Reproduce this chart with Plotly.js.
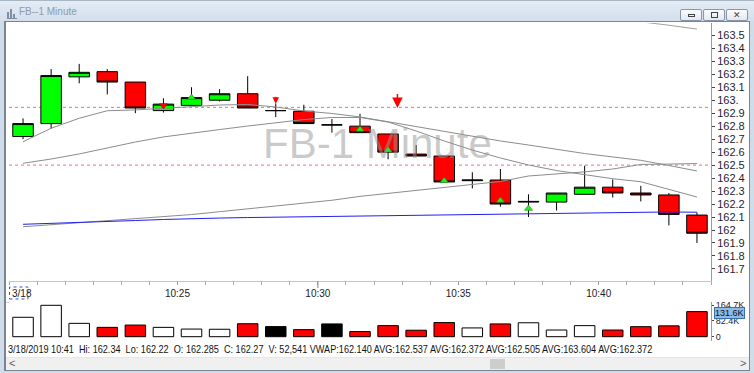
<!DOCTYPE html>
<html>
<head>
<meta charset="utf-8">
<script src="https://cdn.plot.ly/plotly-3.0.1.min.js"></script>
<style>
html,body{margin:0;padding:0;}
body{width:754px;height:373px;overflow:hidden;position:relative;background:#cfdcea;font-family:"Liberation Sans Narrow","Arial Narrow","Liberation Sans",Arial,sans-serif;}
#titlebar{position:absolute;left:0;top:0;width:754px;height:21px;background:linear-gradient(#e4ecf5,#d3dfec);border-top:1px solid #a9b6c4;box-sizing:border-box;}
#title{position:absolute;left:19px;top:5px;font-size:10px;color:#8d9bab;}
#icon{position:absolute;left:7px;top:8px;width:10px;height:9px;border-bottom:1px solid #7f8fa2;}
#icon span{position:absolute;bottom:0;width:2px;background:#7f8fa2;}
.btn{position:absolute;top:8px;width:20px;height:10px;border:1px solid #8896a6;border-radius:2px;background:linear-gradient(#fafcfe,#e2e9f1);}
.btn i{position:absolute;left:7px;top:3px;width:5px;height:3px;border:1px solid #444;}
#inner{position:absolute;left:4px;top:21px;width:743px;height:348px;background:#fff;border:1px solid #7a8591;border-left-width:2px;}
#chart{position:absolute;left:0;top:0;}
#sep{position:absolute;left:6px;top:302px;width:705px;height:1px;background:#d4d4d4;}
#info{position:absolute;left:8px;top:343px;font-size:11px;color:#111;white-space:nowrap;transform-origin:0 50%;}
#scroll{position:absolute;left:6px;top:357px;width:743px;height:12px;background:#f0f0f0;border-top:1px solid #e6e6e6;}
#thumb{position:absolute;left:484px;top:1px;width:15px;height:10px;background:#cdcdcd;}
.arr{position:absolute;top:-1px;font-size:11px;color:#606060;}
</style>
</head>
<body>
<div id="titlebar">
  <div id="icon"><span style="left:0;height:6px"></span><span style="left:3px;height:9px"></span><span style="left:6px;height:4px"></span></div>
  <div id="title">FB--1 Minute</div>
  <div class="btn" style="left:680px"><i style="top:4px;height:1px"></i></div>
  <div class="btn" style="left:703px"><i style="top:2px;height:4px"></i></div>
  <div class="btn" style="left:726px"><i style="border:none;top:0;left:6px;font-style:normal;font-size:9px;color:#444">✕</i></div>
</div>
<div id="inner"></div>
<div id="sep"></div>
<div id="chart"></div>
<div id="info"></div>
<div id="scroll"><span class="arr" style="left:3px">&lt;</span><div id="thumb"></div><span class="arr" style="left:734px">&gt;</span></div>
<script>
// ---- data ----
const day = '2019-03-18';
const times = ['10:19','10:20','10:21','10:22','10:23','10:24','10:25','10:26','10:27','10:28','10:29','10:30','10:31','10:32','10:33','10:34','10:35','10:36','10:37','10:38','10:39','10:40','10:41','10:42','10:43'];
const openP  = [162.72,162.82,163.18,163.22,163.14,162.92,162.96,163.00,163.05,162.92,162.915,162.81,162.80,162.74,162.585,162.57,162.38,162.385,162.215,162.215,162.275,162.33,162.285,162.27,162.115];
const highP  = [162.86,163.24,163.28,163.24,163.14,163.015,163.10,163.085,163.185,162.975,162.965,162.855,162.895,162.74,162.655,162.57,162.445,162.47,162.275,162.285,162.495,162.39,162.34,162.285,162.135];
const lowP   = [162.70,162.78,163.13,163.045,162.90,162.905,162.955,162.99,162.94,162.87,162.82,162.75,162.75,162.545,162.57,162.37,162.32,162.18,162.10,162.15,162.275,162.25,162.22,162.035,161.90];
const closeP = [162.82,163.19,163.215,163.14,162.94,162.97,163.02,163.05,162.94,162.92,162.82,162.81,162.75,162.60,162.57,162.37,162.385,162.20,162.22,162.285,162.33,162.285,162.27,162.12,161.975];
const volume = [101800,164700,70000,49000,61000,49000,40000,39000,68000,53000,37000,67000,27000,58000,34000,74000,46000,67000,73000,35000,58000,35000,52541,57000,131600];
const avg1 = [162.680,162.784,162.861,162.919,162.925,162.936,162.948,162.963,162.967,162.948,162.917,162.898,162.871,162.833,162.796,162.759,162.722,162.686,162.655,162.620,162.589,162.563,162.537,162.497,162.455];
const avg2 = [162.514,162.547,162.586,162.632,162.678,162.717,162.747,162.774,162.801,162.828,162.851,162.867,162.867,162.832,162.763,162.686,162.616,162.555,162.501,162.458,162.425,162.395,162.372,162.315,162.254];
const avg3 = [162.025,162.041,162.055,162.071,162.086,162.100,162.119,162.141,162.163,162.185,162.206,162.229,162.259,162.281,162.304,162.327,162.351,162.374,162.416,162.431,162.448,162.470,162.505,162.508,162.512];
const avg4 = [null,null,null,null,null,null,null,null,null,null,null,null,null,null,null,null,null,null,null,163.70,163.67,163.635,163.604,163.578,163.548];
const vwap = [162.044,162.050,162.057,162.065,162.073,162.081,162.089,162.092,162.096,162.099,162.102,162.105,162.108,162.112,162.116,162.119,162.123,162.126,162.129,162.131,162.133,162.136,162.140,162.139,162.137];
const buySignalTimes  = ['10:25','10:31','10:32','10:34','10:36','10:37'];
const buySignalPrices = [163.02,162.775,162.615,162.38,162.228,162.165];
const sellMarkTimes   = ['10:24'];
const sellMarkPrices  = [162.96];
const sellArrowTimes  = ['10:28:00','10:32:20'];
const sellArrowPrices = [162.972,162.94];
const levelLines = [162.945, 162.5];
const priceTicks = [161.7,161.8,161.9,162.0,162.1,162.2,162.3,162.4,162.5,162.6,162.7,162.8,162.9,163.0,163.1,163.2,163.3,163.4,163.5];
const priceTickText = ['161.7','161.8','161.9','162','162.1','162.2','162.3','162.4','162.5','162.6','162.7','162.8','162.9','163.','163.1','163.2','163.3','163.4','163.5'];
const timeTickLabels = ['10:25','10:30','10:35','10:40'];
const volTicks = [0, 82400, 164700];
const volTickText = ['0','82.4K','164.7K'];
const lastVolLabel = '131.6K';
const watermark = 'FB-1 Minute';
const dateLabel = '3/18';
const infoText = '3/18/2019 10:41&nbsp; Hi: 162.34&nbsp; Lo: 162.22&nbsp; O: 162.285&nbsp; C: 162.27&nbsp; V: 52,541 VWAP:162.140 AVG:162.537 AVG:162.372 AVG:162.505 AVG:163.604 AVG:162.372';

// ---- helpers ----
const pad = n => String(n).padStart(2,'0');
function at(t, sec){
  const p = t.split(':').map(Number);
  let total = p[0]*3600 + p[1]*60 + (p[2]||0) + (sec||0);
  return day+' '+pad(Math.floor(total/3600))+':'+pad(Math.floor(total%3600/60))+':'+pad(total%60);
}
const X = times.map(t => at(t,0));
const FONT = '"Liberation Sans Narrow","Arial Narrow","Liberation Sans",Arial,sans-serif';

const volColors = closeP.map((c,i) => c > openP[i] ? '#ffffff' : (c < openP[i] ? '#ff0000' : '#000000'));

const lineStyle = {color:'#8c8c8c', width:1};
const traces = [
  {type:'scatter', mode:'lines', x:X, y:avg3, line:lineStyle, xaxis:'x', yaxis:'y', hoverinfo:'skip'},
  {type:'scatter', mode:'lines', x:X, y:avg2, line:lineStyle, xaxis:'x', yaxis:'y', hoverinfo:'skip'},
  {type:'scatter', mode:'lines', x:X, y:avg1, line:lineStyle, xaxis:'x', yaxis:'y', hoverinfo:'skip'},
  {type:'scatter', mode:'lines', x:X, y:avg4, line:{color:'#a0a0a0', width:1}, xaxis:'x', yaxis:'y', connectgaps:false},
  {type:'scatter', mode:'lines', x:X, y:vwap, line:{color:'#2020f0', width:1}, xaxis:'x', yaxis:'y'},
  {type:'candlestick', x:X, open:openP, high:highP, low:lowP, close:closeP, xaxis:'x', yaxis:'y',
   increasing:{line:{color:'#000000', width:1}, fillcolor:'#00ff00'},
   decreasing:{line:{color:'#000000', width:1}, fillcolor:'#ff0000'}, whiskerwidth:0},
  {type:'scatter', mode:'markers', x:buySignalTimes.map(t=>at(t,0)), y:buySignalPrices, xaxis:'x', yaxis:'y',
   marker:{symbol:'triangle-up', size:7, color:'#22ee22', line:{color:'#0a9a0a', width:0.6}}},
  {type:'scatter', mode:'markers', x:sellMarkTimes.map(t=>at(t,0)), y:sellMarkPrices, xaxis:'x', yaxis:'y',
   marker:{symbol:'triangle-down', size:7, color:'#ff0000', line:{color:'#b00000', width:0.5}}},
  {type:'bar', x:X, y:volume, xaxis:'x2', yaxis:'y2', marker:{color:volColors, line:{color:'#000000', width:1}}}
];

const L = 9, R = 43, T = 23, B = 32, H = 373;
const ph = H - T - B;
const pxToPaperY = y => (H - B - y) / ph;
const pxToPaperX = x => (x - L) / (754 - L - R);

const shapes = levelLines.map(v => ({type:'line', xref:'paper', yref:'y', x0:0, x1:1, y0:v, y1:v, layer:'below',
  line:{color:'#f07070', width:1, dash:'dot'}}));
shapes.push({type:'line', xref:'x', yref:'paper', x0:at('10:30',-30), x1:at('10:30',-30), y0:pxToPaperY(281), y1:pxToPaperY(288), line:{color:'#888', width:1}});
shapes.push({type:'rect', xref:'paper', yref:'paper', x0:pxToPaperX(9.5), x1:pxToPaperX(28), y0:pxToPaperY(299), y1:pxToPaperY(287), line:{color:'#3050e0', width:1, dash:'dot'}});

const annotations = [
  {xref:'paper', yref:'paper', x:pxToPaperX(377.5), y:pxToPaperY(118), text:watermark, showarrow:false,
   font:{family:'"Liberation Sans",Arial,sans-serif', size:42, color:'rgba(150,150,150,0.5)'}},
  {xref:'paper', yref:'paper', x:pxToPaperX(10), y:pxToPaperY(293), xanchor:'left', yanchor:'middle', text:dateLabel, showarrow:false,
   font:{family:FONT, size:10, color:'#222'}},
  {xref:'paper', yref:'y2', x:1, y:volume[volume.length-1], xanchor:'left', yanchor:'middle', xshift:3, yshift:-1, text:lastVolLabel, showarrow:false,
   bgcolor:'#8dbbeb', bordercolor:'#3b6fa8', borderwidth:1, borderpad:0, font:{family:FONT, size:9, color:'#111'}}
];
sellArrowTimes.forEach((t,i) => {
  annotations.push({xref:'x', yref:'y', x:at(t,0), y:sellArrowPrices[i], text:' ', showarrow:true,
    arrowhead:2, arrowsize: i===0 ? 1.1 : 1.4, arrowwidth: i===0 ? 1.2 : 1.5, arrowcolor:'#ff0000',
    ax:0, ay: i===0 ? -9 : -16, standoff:0, font:{size:1}});
});

const layout = {
  width:754, height:373,
  margin:{l:L, r:R, t:T, b:B, pad:0},
  paper_bgcolor:'rgba(0,0,0,0)', plot_bgcolor:'#ffffff',
  showlegend:false,
  boxgap:0.27, boxgroupgap:0, bargap:0.27,
  font:{family:FONT, size:10, color:'#222'},
  xaxis:{type:'date', anchor:'y', domain:[0,1], range:[at(times[0],-30), at(times[times.length-1],30)],
    tickmode:'array', tickvals:timeTickLabels.map(t=>at(t,-30)), ticktext:timeTickLabels,
    ticks:'outside', ticklen:3, tickcolor:'#999', tickfont:{family:FONT, size:10, color:'#222'},
    minor:{tickmode:'linear', tick0:at(times[0],-30), dtick:60000, ticks:'outside', ticklen:3, tickcolor:'#aaa', showgrid:false},
    showline:true, linecolor:'#c4c4c4', linewidth:1, showgrid:false, zeroline:false, rangeslider:{visible:false}},
  xaxis2:{type:'date', anchor:'y2', matches:'x', domain:[0,1], showticklabels:false, ticks:'', showline:false, showgrid:false, zeroline:false, rangeslider:{visible:false}},
  yaxis:{domain:[pxToPaperY(281),1], anchor:'x', side:'right', range:[161.607,163.595],
    tickmode:'array', tickvals:priceTicks, ticktext:priceTickText, ticks:'outside', ticklen:3, tickcolor:'#444',
    tickfont:{family:FONT, size:11, color:'#1e2430'}, showline:true, linecolor:'#9a9a9a', showgrid:false, zeroline:false},
  yaxis2:{domain:[0,pxToPaperY(302)], anchor:'x2', side:'right', range:[-22550,182000],
    tickmode:'array', tickvals:volTicks, ticktext:volTickText, ticks:'outside', ticklen:2, tickcolor:'#444',
    tickfont:{family:FONT, size:9, color:'#1e2430'}, showline:true, linecolor:'#9a9a9a', showgrid:false, zeroline:false},
  shapes:shapes, annotations:annotations
};

Plotly.newPlot('chart', traces, layout, {displayModeBar:false, staticPlot:true}).then(() => {
  const info = document.getElementById('info');
  info.innerHTML = infoText;
  const w = info.scrollWidth;
  info.style.transform = 'scaleX(' + (644 / w) + ')';
});
</script>
</body>
</html>
